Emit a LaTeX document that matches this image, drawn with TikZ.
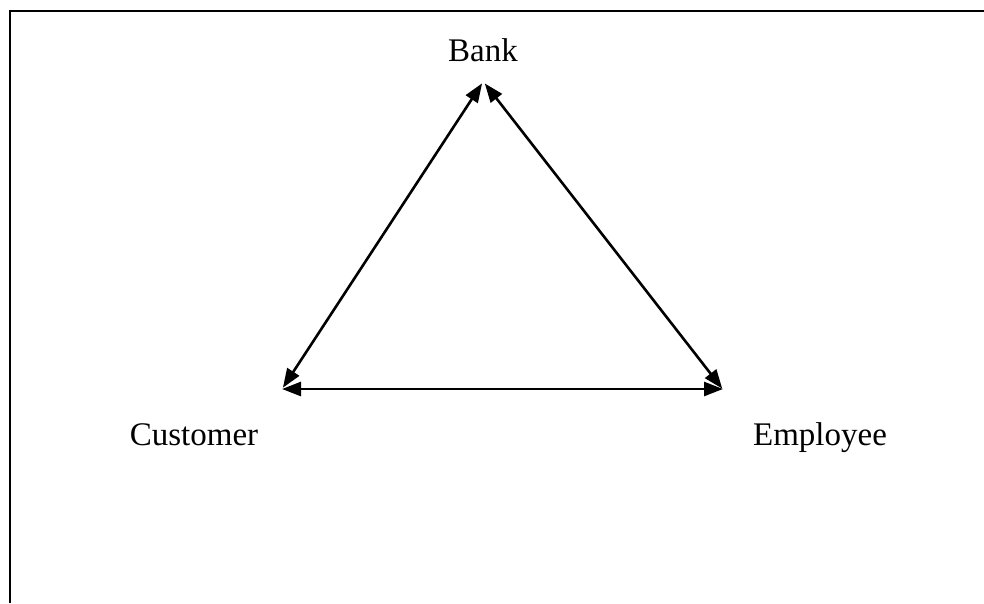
\documentclass[tikz,border=0pt]{standalone}
\usepackage{fontspec}
\setmainfont{Liberation Serif}
\usetikzlibrary{arrows.meta}
\begin{document}
\begin{tikzpicture}[x=1pt,y=-1pt,
  lbl/.style={font=\fontsize{33}{36}\selectfont, inner sep=0pt, anchor=base},
  tip/.style={Triangle[length=19pt,width=14pt]},
  link/.style={line width=2.6pt, {Triangle[length=19pt,width=14pt]}-{Triangle[length=19pt,width=14pt]}, shorten <=-2pt, shorten >=-2pt}]
\useasboundingbox (0,0) rectangle (984,603);
\draw[line width=2.2pt] (10,603) -- (10,11) -- (984,11);
\node[lbl] (bank) at (483,61) {Bank};
\node[lbl] (cust) at (194,445) {Customer};
\node[lbl] (empl) at (820,445) {Employee};
\coordinate (tb1) at (481,85);
\coordinate (tb2) at (486,85);
\coordinate (tc1) at (284,386);
\coordinate (tc2) at (284,389);
\coordinate (te1) at (721,387);
\coordinate (te2) at (721,389);
\draw[link] (tc1) -- (tb1);
\draw[link] (tb2) -- (te1);
\draw[link] (tc2) -- (te2);
\end{tikzpicture}
\end{document}
